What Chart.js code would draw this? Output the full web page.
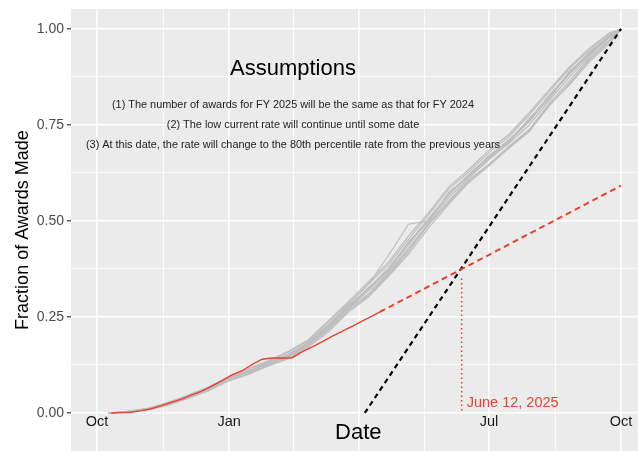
<!DOCTYPE html>
<html>
<head>
<meta charset="utf-8">
<script src="https://cdn.jsdelivr.net/npm/chart.js@4.4.1/dist/chart.umd.min.js"></script>
<style>
  html, body { margin: 0; padding: 0; background: #fff; }
</style>
</head>
<body>
<canvas id="chart" width="638" height="451"></canvas>
<script>
// days since Oct 1 2024
const X_MAJOR = [0, 92, 182, 273, 365];
const X_MINOR = [46, 137, 228, 319];
const X_LABEL_DAYS = [0, 92, 273, 365];
const X_LABELS = ['Oct', 'Jan', 'Jul', 'Oct'];
const Y_TICKS = [0, 0.125, 0.25, 0.375, 0.5, 0.625, 0.75, 0.875, 1];

// previous fiscal years (cumulative fraction)
const GRAY_DAYS = [8, 21, 35, 49, 63, 77, 91, 105, 119, 133, 147, 161, 175, 189, 203, 217, 231, 245, 259, 273, 287, 301, 315, 329, 343, 357, 365];
const GRAY_SERIES = [
  [0, 0.002, 0.009, 0.022, 0.040, 0.060, 0.085, 0.103, 0.125, 0.144, 0.175, 0.216, 0.266, 0.306, 0.360, 0.421, 0.490, 0.552, 0.607, 0.648, 0.695, 0.738, 0.806, 0.864, 0.925, 0.972, 1.0],
  [0, 0.004, 0.012, 0.027, 0.045, 0.066, 0.091, 0.114, 0.133, 0.158, 0.188, 0.236, 0.285, 0.335, 0.386, 0.453, 0.516, 0.583, 0.628, 0.678, 0.720, 0.776, 0.836, 0.897, 0.945, 0.987, 1.0],
  [0, 0.003, 0.010, 0.023, 0.041, 0.063, 0.087, 0.107, 0.129, 0.151, 0.182, 0.228, 0.279, 0.324, 0.378, 0.442, 0.507, 0.570, 0.622, 0.668, 0.712, 0.763, 0.828, 0.886, 0.940, 0.982, 1.0],
  [0, 0.002, 0.008, 0.020, 0.037, 0.057, 0.082, 0.100, 0.122, 0.141, 0.171, 0.211, 0.262, 0.302, 0.356, 0.414, 0.482, 0.544, 0.600, 0.644, 0.690, 0.733, 0.800, 0.858, 0.920, 0.968, 1.0],
  [0, 0.003, 0.011, 0.025, 0.044, 0.064, 0.090, 0.110, 0.131, 0.153, 0.184, 0.230, 0.282, 0.335, 0.410, 0.492, 0.500, 0.568, 0.620, 0.664, 0.708, 0.760, 0.824, 0.882, 0.936, 0.980, 1.0],
  [0, 0.003, 0.010, 0.024, 0.043, 0.063, 0.089, 0.109, 0.127, 0.149, 0.179, 0.222, 0.272, 0.318, 0.368, 0.430, 0.494, 0.560, 0.612, 0.660, 0.702, 0.750, 0.814, 0.874, 0.930, 0.978, 1.0],
  [0, 0.004, 0.011, 0.026, 0.046, 0.067, 0.093, 0.115, 0.135, 0.160, 0.190, 0.240, 0.290, 0.341, 0.392, 0.461, 0.522, 0.589, 0.634, 0.684, 0.726, 0.782, 0.842, 0.901, 0.950, 0.990, 1.0],
  [0, 0.002, 0.009, 0.021, 0.039, 0.059, 0.084, 0.102, 0.124, 0.145, 0.177, 0.218, 0.270, 0.310, 0.364, 0.424, 0.492, 0.548, 0.604, 0.646, 0.692, 0.735, 0.802, 0.854, 0.915, 0.962, 1.0],
  [0, 0.003, 0.010, 0.024, 0.042, 0.061, 0.086, 0.106, 0.126, 0.148, 0.178, 0.224, 0.276, 0.322, 0.374, 0.438, 0.503, 0.568, 0.618, 0.664, 0.708, 0.758, 0.823, 0.882, 0.937, 0.981, 1.0],
  [0, 0.003, 0.010, 0.023, 0.041, 0.062, 0.088, 0.108, 0.130, 0.152, 0.181, 0.226, 0.274, 0.326, 0.371, 0.446, 0.498, 0.575, 0.615, 0.671, 0.705, 0.768, 0.817, 0.890, 0.933, 0.984, 1.0]
];

// FY 2025 so far
const CUR_DAYS = [10, 17, 24, 31, 38, 45, 52, 59, 66, 73, 80, 87, 94, 101, 108, 115, 122, 129, 136, 143, 150, 157, 164, 171, 178, 185, 192, 197];
const CUR_VALUES = [0, 0.001, 0.002, 0.006, 0.011, 0.019, 0.028, 0.036, 0.047, 0.057, 0.070, 0.084, 0.099, 0.110, 0.126, 0.140, 0.143, 0.143, 0.144, 0.160, 0.172, 0.186, 0.200, 0.213, 0.226, 0.240, 0.253, 0.263];

// projections
const LOW_RATE_DAYS = [197, 365];
const LOW_RATE_VALUES = [0.263, 0.592];
const HIGH_RATE_DAYS = [186.5, 365];
const HIGH_RATE_VALUES = [0, 1];
const SWITCH_DAY = 254;
const SWITCH_VALUES = [0.35, 0];

const NOTES = [
  '(1) The number of awards for FY 2025 will be the same as that for FY 2024',
  '(2) The low current rate will continue until some date',
  '(3) At this date, the rate will change to the 80th percentile rate from the previous years'
];

const pts = (xs, ys) => xs.map((d, i) => ({ x: d, y: ys[i] }));
const FONT = '"Liberation Sans", Arial, sans-serif';
const RED = '#E5432D';
const isMajor = v => Math.abs(v * 4 - Math.round(v * 4)) < 1e-6;

const datasets = [];
datasets.push({ data: pts(CUR_DAYS, CUR_VALUES), borderColor: RED, borderWidth: 1.4, order: 2 });
datasets.push({ data: pts(LOW_RATE_DAYS, LOW_RATE_VALUES), borderColor: RED, borderWidth: 2, borderDash: [6, 4], order: 1 });
datasets.push({ data: pts(HIGH_RATE_DAYS, HIGH_RATE_VALUES), borderColor: '#000', borderWidth: 2.2, borderDash: [5, 4], order: 1 });
datasets.push({ data: pts([SWITCH_DAY, SWITCH_DAY], SWITCH_VALUES), borderColor: RED, borderWidth: 1.5, borderDash: [1.5, 3], order: 1 });
GRAY_SERIES.forEach(s => {
  datasets.push({ data: pts(GRAY_DAYS, s), borderColor: '#BEBEBE', borderWidth: 1.2, order: 5 });
});

// panel background
const panelBg = {
  id: 'panelBg',
  beforeDraw(chart) {
    const { ctx, chartArea: a } = chart;
    ctx.save();
    ctx.fillStyle = '#EBEBEB';
    ctx.fillRect(a.left, a.top, a.right - a.left, a.bottom - a.top);
    ctx.restore();
  }
};

// texts placed in data coordinates
const annotate = {
  id: 'annotate',
  afterDatasetsDraw(chart) {
    const { ctx, scales: { x, y } } = chart;
    ctx.save();
    ctx.textBaseline = 'middle';
    ctx.textAlign = 'center';

    ctx.font = '14.5px ' + FONT;
    ctx.fillStyle = '#1A1A1A';
    X_LABELS.forEach((lab, i) => {
      ctx.fillText(lab, x.getPixelForValue(X_LABEL_DAYS[i]), y.getPixelForValue(-0.023));
    });

    ctx.font = '22px ' + FONT;
    ctx.fillStyle = '#000';
    ctx.fillText('Date', x.getPixelForValue(182), y.getPixelForValue(-0.053));
    ctx.fillText('Assumptions', x.getPixelForValue(136.5), y.getPixelForValue(0.896));

    ctx.font = '10.9px ' + FONT;
    ctx.fillStyle = '#222';
    const noteY = [0.802, 0.75, 0.698];
    NOTES.forEach((t, i) => ctx.fillText(t, x.getPixelForValue(136.5), y.getPixelForValue(noteY[i])));

    ctx.textAlign = 'left';
    ctx.font = '14.5px ' + FONT;
    ctx.fillStyle = RED;
    ctx.fillText('June 12, 2025', x.getPixelForValue(257.5), y.getPixelForValue(0.026));
    ctx.restore();
  }
};

new Chart(document.getElementById('chart'), {
  type: 'line',
  data: { datasets },
  plugins: [panelBg, annotate],
  options: {
    responsive: false,
    animation: false,
    devicePixelRatio: 1,
    layout: { padding: { top: 9, left: 0, right: 0, bottom: 0 } },
    elements: {
      point: { radius: 0 },
      line: { tension: 0, borderCapStyle: 'butt', fill: false }
    },
    plugins: { legend: { display: false }, tooltip: { enabled: false } },
    scales: {
      x: {
        type: 'linear',
        min: -18.1,
        max: 376.8,
        afterBuildTicks(s) { s.ticks = X_MAJOR.concat(X_MINOR).map(v => ({ value: v })); },
        afterFit(s) { s.height = 0; s.paddingLeft = 0; s.paddingRight = 0; },
        ticks: { display: false },
        border: { display: false },
        grid: {
          drawTicks: false,
          color: '#FFFFFF',
          lineWidth: c => (X_MAJOR.includes(c.tick && c.tick.value) ? 1.6 : 0.8)
        }
      },
      y: {
        min: -0.099,
        max: 1.052,
        afterBuildTicks(s) { s.ticks = Y_TICKS.map(v => ({ value: v })); },
        afterFit(s) { s.width = 71; s.paddingTop = 0; s.paddingBottom = 0; },
        border: { display: false },
        ticks: {
          padding: 3,
          color: '#4D4D4D',
          font: { family: FONT, size: 14 },
          callback: v => (isMajor(v) ? v.toFixed(2) : '')
        },
        grid: {
          color: '#FFFFFF',
          tickLength: 4,
          tickWidth: 1.2,
          tickColor: c => (c.tick && isMajor(c.tick.value) ? '#333333' : 'rgba(0,0,0,0)'),
          lineWidth: c => (c.tick && isMajor(c.tick.value) ? 1.6 : 0.8)
        },
        title: {
          display: true,
          text: 'Fraction of Awards Made',
          color: '#000',
          font: { family: FONT, size: 18 },
          padding: { top: 12, bottom: 0 }
        }
      }
    }
  }
});
</script>
</body>
</html>
